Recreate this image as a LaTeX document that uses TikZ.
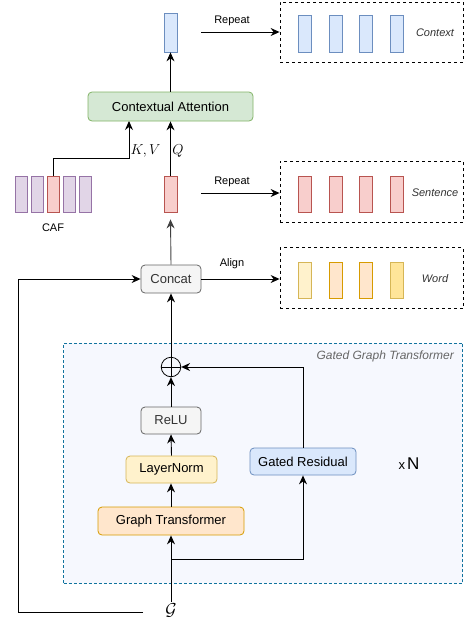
\documentclass[tikz,border=0pt]{standalone}
\usepackage{fontspec}
\setmainfont{Liberation Sans}
\usetikzlibrary{arrows.meta}
\definecolor{bluef}{HTML}{DAE8FC}\definecolor{blues}{HTML}{6C8EBF}
\definecolor{redf}{HTML}{F8CECC}\definecolor{reds}{HTML}{B85450}
\definecolor{purf}{HTML}{E1D5E7}\definecolor{purs}{HTML}{9673A6}
\definecolor{greenf}{HTML}{D5E8D4}\definecolor{greens}{HTML}{82B366}
\definecolor{grayf}{HTML}{F5F5F5}\definecolor{grays}{HTML}{666666}\definecolor{grayt}{HTML}{333333}
\definecolor{yelf}{HTML}{FFF2CC}\definecolor{yels}{HTML}{D6B656}
\definecolor{oraf}{HTML}{FFE6CC}\definecolor{oras}{HTML}{D79B00}
\definecolor{gold}{HTML}{FFE599}
\definecolor{ggtf}{HTML}{F6F8FE}\definecolor{ggts}{HTML}{10739E}
\begin{document}
\begin{tikzpicture}[x=1pt,y=-1pt,
  vec/.style={draw, line width=0.8pt, minimum width=13pt, minimum height=37pt, inner sep=0pt},
  cafvec/.style={vec, minimum width=12pt, minimum height=36pt},
  box/.style={draw, line width=0.8pt, rounded corners=4pt, inner sep=0pt, font=\fontsize{13}{15}\selectfont},
  dbox/.style={draw, dashed, line width=0.8pt, dash pattern=on 3pt off 3pt, fill=white, minimum width=183pt, minimum height=60pt, inner sep=0pt},
  arr/.style={-{Stealth[length=9pt,width=8pt,inset=3pt]}, line width=0.9pt},
  lab/.style={font=\fontsize{11}{13}\selectfont, inner sep=0pt},
  ilab/.style={font=\fontsize{11}{13}\selectfont\itshape, inner sep=0pt, text=black!80}
]
\useasboundingbox (0,0) rectangle (464,625);
% Gated graph transformer background
\node[draw=ggts, fill=ggtf, dashed, dash pattern=on 3pt off 2pt, line width=0.7pt, minimum width=399pt, minimum height=240pt, inner sep=0pt] (ggt) at (263,463) {};
\node[font=\fontsize{12}{14}\selectfont\itshape, text=grays, anchor=east, inner sep=0pt] (ggtl) at (454,356) {Gated Graph Transformer};
% top
\node[vec, fill=bluef, draw=blues, minimum height=39pt] (ctx) at (170.5,32.5) {};
\node[box, fill=greenf, draw=greens, minimum width=165pt, minimum height=29pt] (ca) at (170.5,106.5) {Contextual Attention};
\node[dbox] (cbox) at (371.5,32) {};
\foreach \i/\x in {1/305,2/335.5,3/366,4/397}{\node[vec, fill=bluef, draw=blues] (c\i) at (\x,33.5) {};}
\node[ilab] (ctxl) at (435,33) {Context};
% sentence row
\node[vec, fill=redf, draw=reds, minimum height=36pt] (sent) at (170.5,194) {};
\node[cafvec, fill=purf, draw=purs] (caf1) at (21,194) {};
\node[cafvec, fill=purf, draw=purs] (caf2) at (37,194) {};
\node[cafvec, fill=redf, draw=reds] (caf3) at (53,194) {};
\node[cafvec, fill=purf, draw=purs] (caf4) at (69,194) {};
\node[cafvec, fill=purf, draw=purs] (caf5) at (85,194) {};
\node[lab] (cafl) at (53,228) {CAF};
\node[dbox, minimum height=61pt] (sbox) at (371.5,191.5) {};
\foreach \i/\x in {1/305,2/335.5,3/366,4/397}{\node[vec, fill=redf, draw=reds, minimum height=36pt] (s\i) at (\x,194) {};}
\node[ilab] (sentl) at (435,193) {Sentence};
% word row
\node[box, fill=grayf, draw=grays, text=grayt, minimum width=60pt, minimum height=28pt] (concat) at (171,279) {Concat};
\node[dbox, minimum height=61pt] (wbox) at (371.5,278) {};
\node[vec, fill=yelf, draw=yels, minimum height=36pt] (w1) at (305,280) {};
\node[vec, fill=oraf, draw=oras, minimum height=36pt] (w2) at (335.5,280) {};
\node[vec, fill=oraf, draw=oras, minimum height=36pt] (w3) at (366,280) {};
\node[vec, fill=gold, draw=yels, minimum height=36pt] (w4) at (397,280) {};
\node[ilab] (wordl) at (435,279) {Word};
% GGT block
\node[draw, circle, line width=0.8pt, minimum size=19.5pt, inner sep=0pt] (op) at (171,367) {};
\draw[line width=0.8pt] (op.north) -- (op.south) (op.west) -- (op.east);
\node[box, fill=grayf, draw=grays, text=grayt, minimum width=60pt, minimum height=27pt] (relu) at (171,420.5) {ReLU};
\node[box, fill=yelf, draw=yels, minimum width=91pt, minimum height=27pt] (ln) at (171.5,469.5) {LayerNorm};
\node[box, fill=oraf, draw=oras, minimum width=146pt, minimum height=28pt] (gt) at (171,521) {Graph Transformer};
\node[box, fill=bluef, draw=blues, minimum width=106pt, minimum height=27pt] (gr) at (303,461.5) {Gated Residual};
\node[inner sep=0pt] (xn) at (409,464) {\fontsize{13}{15}\selectfont x\kern2pt\fontsize{17}{19}\selectfont N};
\node[inner sep=1pt, font=\fontsize{17}{19}\selectfont] (G) at (171,610) {$\mathcal{G}$};
% connectors
\draw[arr] (ca.north) -- (ctx.south);
\coordinate (r1) at (201,32);
\draw[arr] (r1) -- (cbox.west |- r1);
\node[lab] (rep1) at (232,21) {Repeat};
\coordinate (r2) at (201,193);
\draw[arr] (r2) -- (sbox.west |- r2);
\node[lab] (rep2) at (232,182) {Repeat};
\coordinate (kv) at (129,121);
\draw[arr] (caf3.north) -- ++(0,-17) -| (kv);
\draw[arr] (sent.north) -- (sent.north |- ca.south);
\node[inner sep=0pt, font=\fontsize{14}{16}\selectfont] (kvl) at (145.5,151) {$K,V$};
\node[inner sep=0pt, font=\fontsize{14}{16}\selectfont] (ql) at (178,151) {$Q$};
\draw[arr, draw=black!75] (concat.north) -- ([yshift=-7pt]sent.south);
\draw[arr] (concat.east) -- (concat.east -| wbox.west);
\node[lab] (alignl) at (232,264) {Align};
\coordinate (gs) at (143,612);
\draw[arr] (gs) -- (18,612) -- (18,279) -- (concat.west);
\draw[arr] (op.north) -- (concat.south);
\draw[arr] (relu.north) -- (op.south);
\draw[arr] (ln.north) -- (relu.south);
\draw[arr] (gt.north) -- (gt.north |- ln.south);
\draw[arr] (G.north) -- (gt.south);
\coordinate (br) at (171,559);
\draw[arr] (br) -| (gr.south);
\draw[arr] (gr.north) |- (op.east);
\end{tikzpicture}
\end{document}
